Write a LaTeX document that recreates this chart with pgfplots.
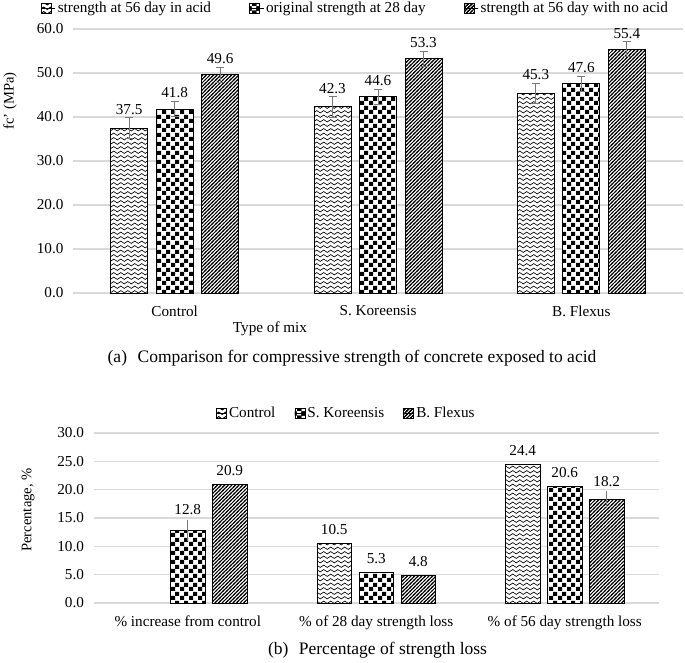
\documentclass[border=0pt]{standalone}
\usepackage{fontspec}
\setmainfont{Liberation Serif}
\usepackage{pgfplots}
\usepackage{pgfplotstable}
\pgfplotsset{compat=1.18}
\usetikzlibrary{patterns}

\definecolor{gridgray}{RGB}{217,217,217}
\definecolor{errgray}{RGB}{120,120,120}

\pgfdeclarepatternformonly{wavy}{\pgfpoint{-1bp}{-1bp}}{\pgfpoint{8bp}{5.5bp}}{\pgfpoint{7bp}{4.5bp}}{%
  \pgfsetlinewidth{0.65bp}%
  \pgfpathmoveto{\pgfpoint{0bp}{2.25bp}}%
  \pgfpathcurveto{\pgfpoint{1.2bp}{3.8bp}}{\pgfpoint{2.3bp}{3.8bp}}{\pgfpoint{3.5bp}{2.25bp}}%
  \pgfpathcurveto{\pgfpoint{4.7bp}{0.7bp}}{\pgfpoint{5.8bp}{0.7bp}}{\pgfpoint{7bp}{2.25bp}}%
  \pgfusepath{stroke}}
\pgfdeclarepatternformonly{checker}{\pgfpointorigin}{\pgfpoint{9bp}{9bp}}{\pgfpoint{9bp}{9bp}}{%
  \pgfpathrectangle{\pgfpointorigin}{\pgfpoint{4.5bp}{4.5bp}}%
  \pgfpathrectangle{\pgfpoint{4.5bp}{4.5bp}}{\pgfpoint{4.5bp}{4.5bp}}%
  \pgfusepath{fill}}
\pgfdeclarepatternformonly{diag}{\pgfpoint{-1bp}{-1bp}}{\pgfpoint{4.6bp}{4.6bp}}{\pgfpoint{3.6bp}{3.6bp}}{%
  \pgfsetlinewidth{1bp}%
  \pgfpathmoveto{\pgfpoint{-1bp}{-1bp}}\pgfpathlineto{\pgfpoint{4.6bp}{4.6bp}}%
  \pgfusepath{stroke}}

\newcommand\lab{\fontsize{15.2bp}{18bp}\selectfont}
\newcommand\ttl{\fontsize{14.6bp}{17bp}\selectfont}
\newcommand\capfont{\fontsize{17.5bp}{21bp}\selectfont}
\def\leggap{10bp}

\pgfplotsset{
  /pgf/number format/assume math mode=true,
  mybar/.style={draw=black, line width=1bp, fill=white, postaction={pattern=#1},
    legend image code/.code={\draw[draw=black,line width=0.8bp,fill=white,postaction={pattern=#1}] (0bp,-5bp) rectangle (10bp,5bp); \path (0bp,0bp) -- (\leggap,0bp);}},
  common/.style={
    scale only axis, xmin=-0.5, xmax=2.5, ymin=0,
    xtick={0,1,2}, major tick length=0pt,
    axis line style={draw=none},
    ymajorgrids, grid style={gridgray, line width=1.2bp},
    tick label style={font=\lab},
    yticklabel={\pgfmathprintnumber[fixed,fixed zerofill,precision=1]{\tick}},
    yticklabel style={xshift=-6bp},
    xticklabel style={yshift=-9bp},
    clip=false,
    nodes near coords={\pgfmathprintnumber[fixed,fixed zerofill,precision=1]{\pgfplotspointmeta}},
    nodes near coords style={font=\lab, anchor=south, inner sep=0pt, text=black},
    visualization depends on={\thisrow{off}\as\myoff},
    every node near coord/.append style={yshift=\myoff bp},
    point meta=explicit,
    error bars/y dir=both, error bars/y explicit,
    legend cell align=left,
  },
}

% panel (a)
\pgfplotstableread{
x y err off
0 37.5 2.3 13.1
1 42.3 2.3 13.1
2 45.3 2.3 13.1
}\acid
\pgfplotstableread{
x y err off
0 41.8 1.7 10.5
1 44.6 1.7 10.5
2 47.6 1.7 10.5
}\orig
\pgfplotstableread{
x y err off
0 49.6 1.7 10.5
1 53.3 1.7 10.5
2 55.4 1.7 10.5
}\noacid
% panel (b)
\pgfplotstableread{
x y err off
1 10.5 0 8.5
2 24.4 0 8.5
}\ctrl
\pgfplotstableread{
x y err off
0 12.8 1.9 15
1 5.3 0 8.5
2 20.6 0 8.5
}\skor
\pgfplotstableread{
x y err off
0 20.9 0 8.5
1 4.8 0 8.5
2 18.2 1.5 13
}\bflex

\begin{document}
\begin{tikzpicture}
\useasboundingbox (0,0) rectangle (685bp,-663bp);

\def\leggap{14bp}
\begin{axis}[common,
  at={(73bp,-293bp)}, anchor=south west,
  width=610bp, height=264bp,
  ybar=8.5bp, bar width=37bp,
  ymax=60, ytick={0,10,...,60},
  xticklabels={Control,S. Koreensis,B. Flexus},
  error bars/error bar style={errgray, line width=0.9bp},
  error bars/error mark options={rotate=90, mark size=4bp, errgray, line width=0.9bp},
  legend style={at={(0.463,1)}, anchor=center, yshift=21bp, draw=none, fill=none,
    legend columns=-1, font=\lab, /tikz/every even column/.append style={column sep=36bp}},
]
\addplot[mybar=wavy] table[x=x,y=y,y error=err,meta=y]{\acid};
\addlegendentry{strength at 56 day in acid}
\addplot[mybar=checker] table[x=x,y=y,y error=err,meta=y]{\orig};
\addlegendentry{original strength at 28 day}
\addplot[mybar=diag] table[x=x,y=y,y error=err,meta=y]{\noacid};
\addlegendentry{strength at 56 day with no acid}
\end{axis}

\node[font=\lab] at (270bp,-329bp) {Type of mix};
\node[font=\ttl, rotate=90] at (10bp,-101bp) {fc' (MPa)};
\node[font=\capfont] at (352bp,-358bp) {(a)\hspace{0.6em}Comparison for compressive strength of concrete exposed to acid};

\def\leggap{10bp}
\begin{axis}[common,
  at={(93.5bp,-603bp)}, anchor=south west,
  width=565.5bp, height=170bp,
  ybar=7.5bp, bar width=34.5bp,
  ymax=30, ytick={0,5,...,30},
  xticklabels={\% increase from control,\% of 28 day strength loss,\% of 56 day strength loss},
  error bars/error bar style={errgray, line width=0.9bp},
  error bars/error mark=none,
  legend style={at={(0.447,1)}, anchor=center, yshift=20bp, draw=none, fill=none,
    legend columns=-1, font=\lab, /tikz/every even column/.append style={column sep=17bp}},
]
\addplot[mybar=wavy] table[x=x,y=y,y error=err,meta=y]{\ctrl};
\addlegendentry{Control}
\addplot[mybar=checker] table[x=x,y=y,y error=err,meta=y]{\skor};
\addlegendentry{S. Koreensis}
\addplot[mybar=diag] table[x=x,y=y,y error=err,meta=y]{\bflex};
\addlegendentry{B. Flexus}
\end{axis}

\node[font=\ttl, rotate=90] at (28bp,-510bp) {Percentage, \%};
\node[font=\capfont] at (377.5bp,-650bp) {(b)\hspace{0.6em}Percentage of strength loss};
\end{tikzpicture}
\end{document}
